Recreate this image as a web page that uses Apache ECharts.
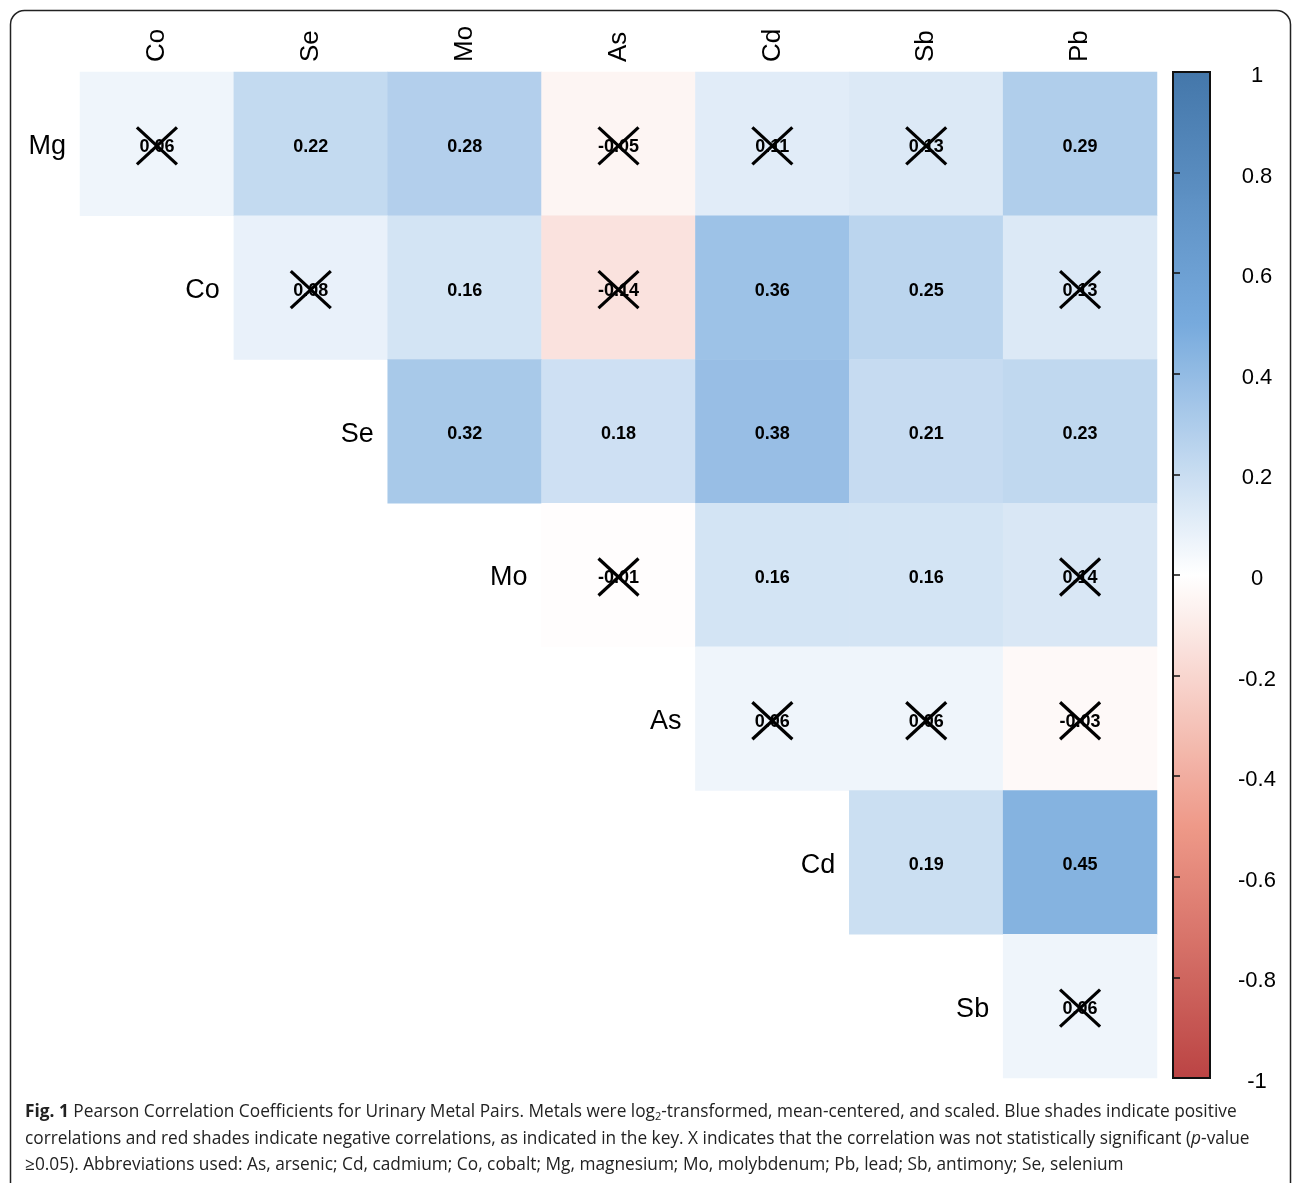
<!DOCTYPE html>
<html>
<head>
<meta charset="utf-8">
<script src="https://cdn.jsdelivr.net/npm/echarts@6.0.0/dist/echarts.min.js"></script>
<style>
  html, body { margin: 0; padding: 0; background: #fff; }
  #chart { width: 1292px; height: 1183px; }
</style>
</head>
<body>
<div id="chart"></div>
<script>
// columns (top) and rows (left) of the upper-triangle matrix
const colNames = ['Co', 'Se', 'Mo', 'As', 'Cd', 'Sb', 'Pb'];
const rowNames = ['Mg', 'Co', 'Se', 'Mo', 'As', 'Cd', 'Sb'];

// correlation values per row, starting at the diagonal column
const rMg = [0.06, 0.22, 0.28, -0.05, 0.11, 0.13, 0.29];
const rCo = [0.08, 0.16, -0.14, 0.36, 0.25, 0.13];
const rSe = [0.32, 0.18, 0.38, 0.21, 0.23];
const rMo = [-0.01, 0.16, 0.16, 0.14];
const rAs = [0.06, 0.06, -0.03];
const rCd = [0.19, 0.45];
const rSb = [0.06];

// 1 = not significant (crossed out)
const nsMg = [1, 0, 0, 1, 1, 1, 0];
const nsCo = [1, 0, 1, 0, 0, 1];
const nsSe = [0, 0, 0, 0, 0];
const nsMo = [1, 0, 0, 1];
const nsAs = [1, 1, 1];
const nsCd = [0, 0];
const nsSb = [1];

const rows = [rMg, rCo, rSe, rMo, rAs, rCd, rSb];
const nsRows = [nsMg, nsCo, nsSe, nsMo, nsAs, nsCd, nsSb];

const cells = [];
const crosses = [];
rows.forEach((vals, r) => {
    vals.forEach((v, k) => {
        const c = r + k;
        cells.push([c, r, v]);
        if (nsRows[r][k]) crosses.push([c, r]);
    });
});
const rowLabels = rowNames.map((n, r) => [r, r, n]);

const chart = echarts.init(document.getElementById('chart'));
const textFont = 'Liberation Sans, Arial, sans-serif';
const capFont = '17.3px "Open Sans"';

chart.setOption({
    animation: false,
    backgroundColor: '#fff',
    grid: [
        {left: 80, right: 135, top: 72, bottom: 105},
        {left: 1173, top: 72, width: 37, height: 1006, show: true,
            borderColor: '#111', borderWidth: 2, backgroundColor: 'transparent', z: 6}
    ],
    xAxis: [
        {
            type: 'category', data: colNames, position: 'top', gridIndex: 0,
            axisLine: {show: false}, axisTick: {show: false}, splitLine: {show: false},
            axisLabel: {rotate: -90, margin: 10, fontSize: 26, color: '#000', fontFamily: textFont}
        },
        {type: 'value', gridIndex: 1, show: false, min: 0, max: 1}
    ],
    yAxis: [
        {
            type: 'category', data: rowNames, inverse: true, gridIndex: 0,
            axisLine: {show: false}, axisTick: {show: false}, axisLabel: {show: false},
            splitLine: {show: false}
        },
        {
            type: 'value', gridIndex: 1, position: 'right', min: -1, max: 1, interval: 0.2,
            z: 6,
            axisLine: {show: true, lineStyle: {color: '#111', width: 2}},
            axisTick: {show: true, inside: false, length: 7, lineStyle: {color: '#111', width: 1.5}},
            splitLine: {show: false},
            axisLabel: {
                margin: 47, align: 'center', color: '#000',
                formatter: v => '{a|' + (+v.toFixed(1)) + '}',
                rich: {a: {fontSize: 22, fontFamily: textFont, color: '#000',
                    lineHeight: 30, verticalAlign: 'bottom'}}
            }
        }
    ],
    visualMap: {
        type: 'continuous', min: -1, max: 1, seriesIndex: 0,
        left: 1173, top: 72, itemWidth: 37, itemHeight: 1006, padding: 0,
        calculable: false, hoverLink: false,
        inRange: {color: ['#BB4444', '#EE9988', '#FFFFFF', '#77AADD', '#4477AA']}
    },
    series: [
        {
            type: 'heatmap', data: cells,
            label: {
                show: true, fontSize: 18, fontWeight: 'bold', color: '#000', fontFamily: textFont,
                offset: [0, 3],
                formatter: p => p.value[2].toFixed(2)
            },
            itemStyle: {borderWidth: 0}
        },
        {
            type: 'custom', data: crosses, z: 5, silent: true,
            renderItem: (params, api) => {
                const p = api.coord([api.value(0), api.value(1)]);
                const cy = p[1] + 2;
                const hw = 20, hh = 18.5;
                const st = {stroke: '#000', lineWidth: 3.2};
                return {
                    type: 'group', children: [
                        {type: 'line', shape: {x1: p[0] - hw, y1: cy - hh, x2: p[0] + hw, y2: cy + hh}, style: st},
                        {type: 'line', shape: {x1: p[0] - hw, y1: cy + hh, x2: p[0] + hw, y2: cy - hh}, style: st}
                    ]
                };
            }
        },
        {
            type: 'custom', data: rowLabels, z: 5, silent: true,
            renderItem: (params, api) => {
                const p = api.coord([api.value(0), api.value(1)]);
                const s = api.size([1, 1]);
                return {
                    type: 'text',
                    style: {
                        x: p[0] - s[0] / 2 - 14, y: p[1] + 3,
                        text: rowNames[api.value(1)],
                        align: 'right', verticalAlign: 'middle',
                        fontSize: 27, fill: '#000', fontFamily: textFont
                    }
                };
            }
        }
    ],
    graphic: [
        {
            type: 'rect', silent: true,
            shape: {x: 10.5, y: 10.5, width: 1280, height: 1210, r: 14},
            style: {fill: 'none', stroke: '#222', lineWidth: 1.5}
        },
        {
            type: 'text', left: 25, top: 1104,
            style: {
                text: '{b|Fig. 1} Pearson Correlation Coefficients for Urinary Metal Pairs. Metals were log{sub|2}-transformed, mean-centered, and scaled. Blue shades indicate positive',
                font: capFont, fill: '#222',
                rich: {
                    b: {fontWeight: 'bold', fontSize: 17.3, fontFamily: 'Open Sans'},
                    sub: {fontSize: 11, fontFamily: 'Open Sans', verticalAlign: 'bottom', padding: [8, 0, 0, 0]}
                }
            }
        },
        {
            type: 'text', left: 25, top: 1131,
            style: {
                text: 'correlations and red shades indicate negative correlations, as indicated in the key. X indicates that the correlation was not statistically significant ({i|p}-value',
                font: capFont, fill: '#222',
                rich: {i: {fontStyle: 'italic', fontSize: 17.3, fontFamily: 'Open Sans'}}
            }
        },
        {
            type: 'text', left: 25, top: 1157,
            style: {
                text: '≥0.05). Abbreviations used: As, arsenic; Cd, cadmium; Co, cobalt; Mg, magnesium; Mo, molybdenum; Pb, lead; Sb, antimony; Se, selenium',
                font: capFont, fill: '#222'
            }
        }
    ]
});
</script>
</body>
</html>
